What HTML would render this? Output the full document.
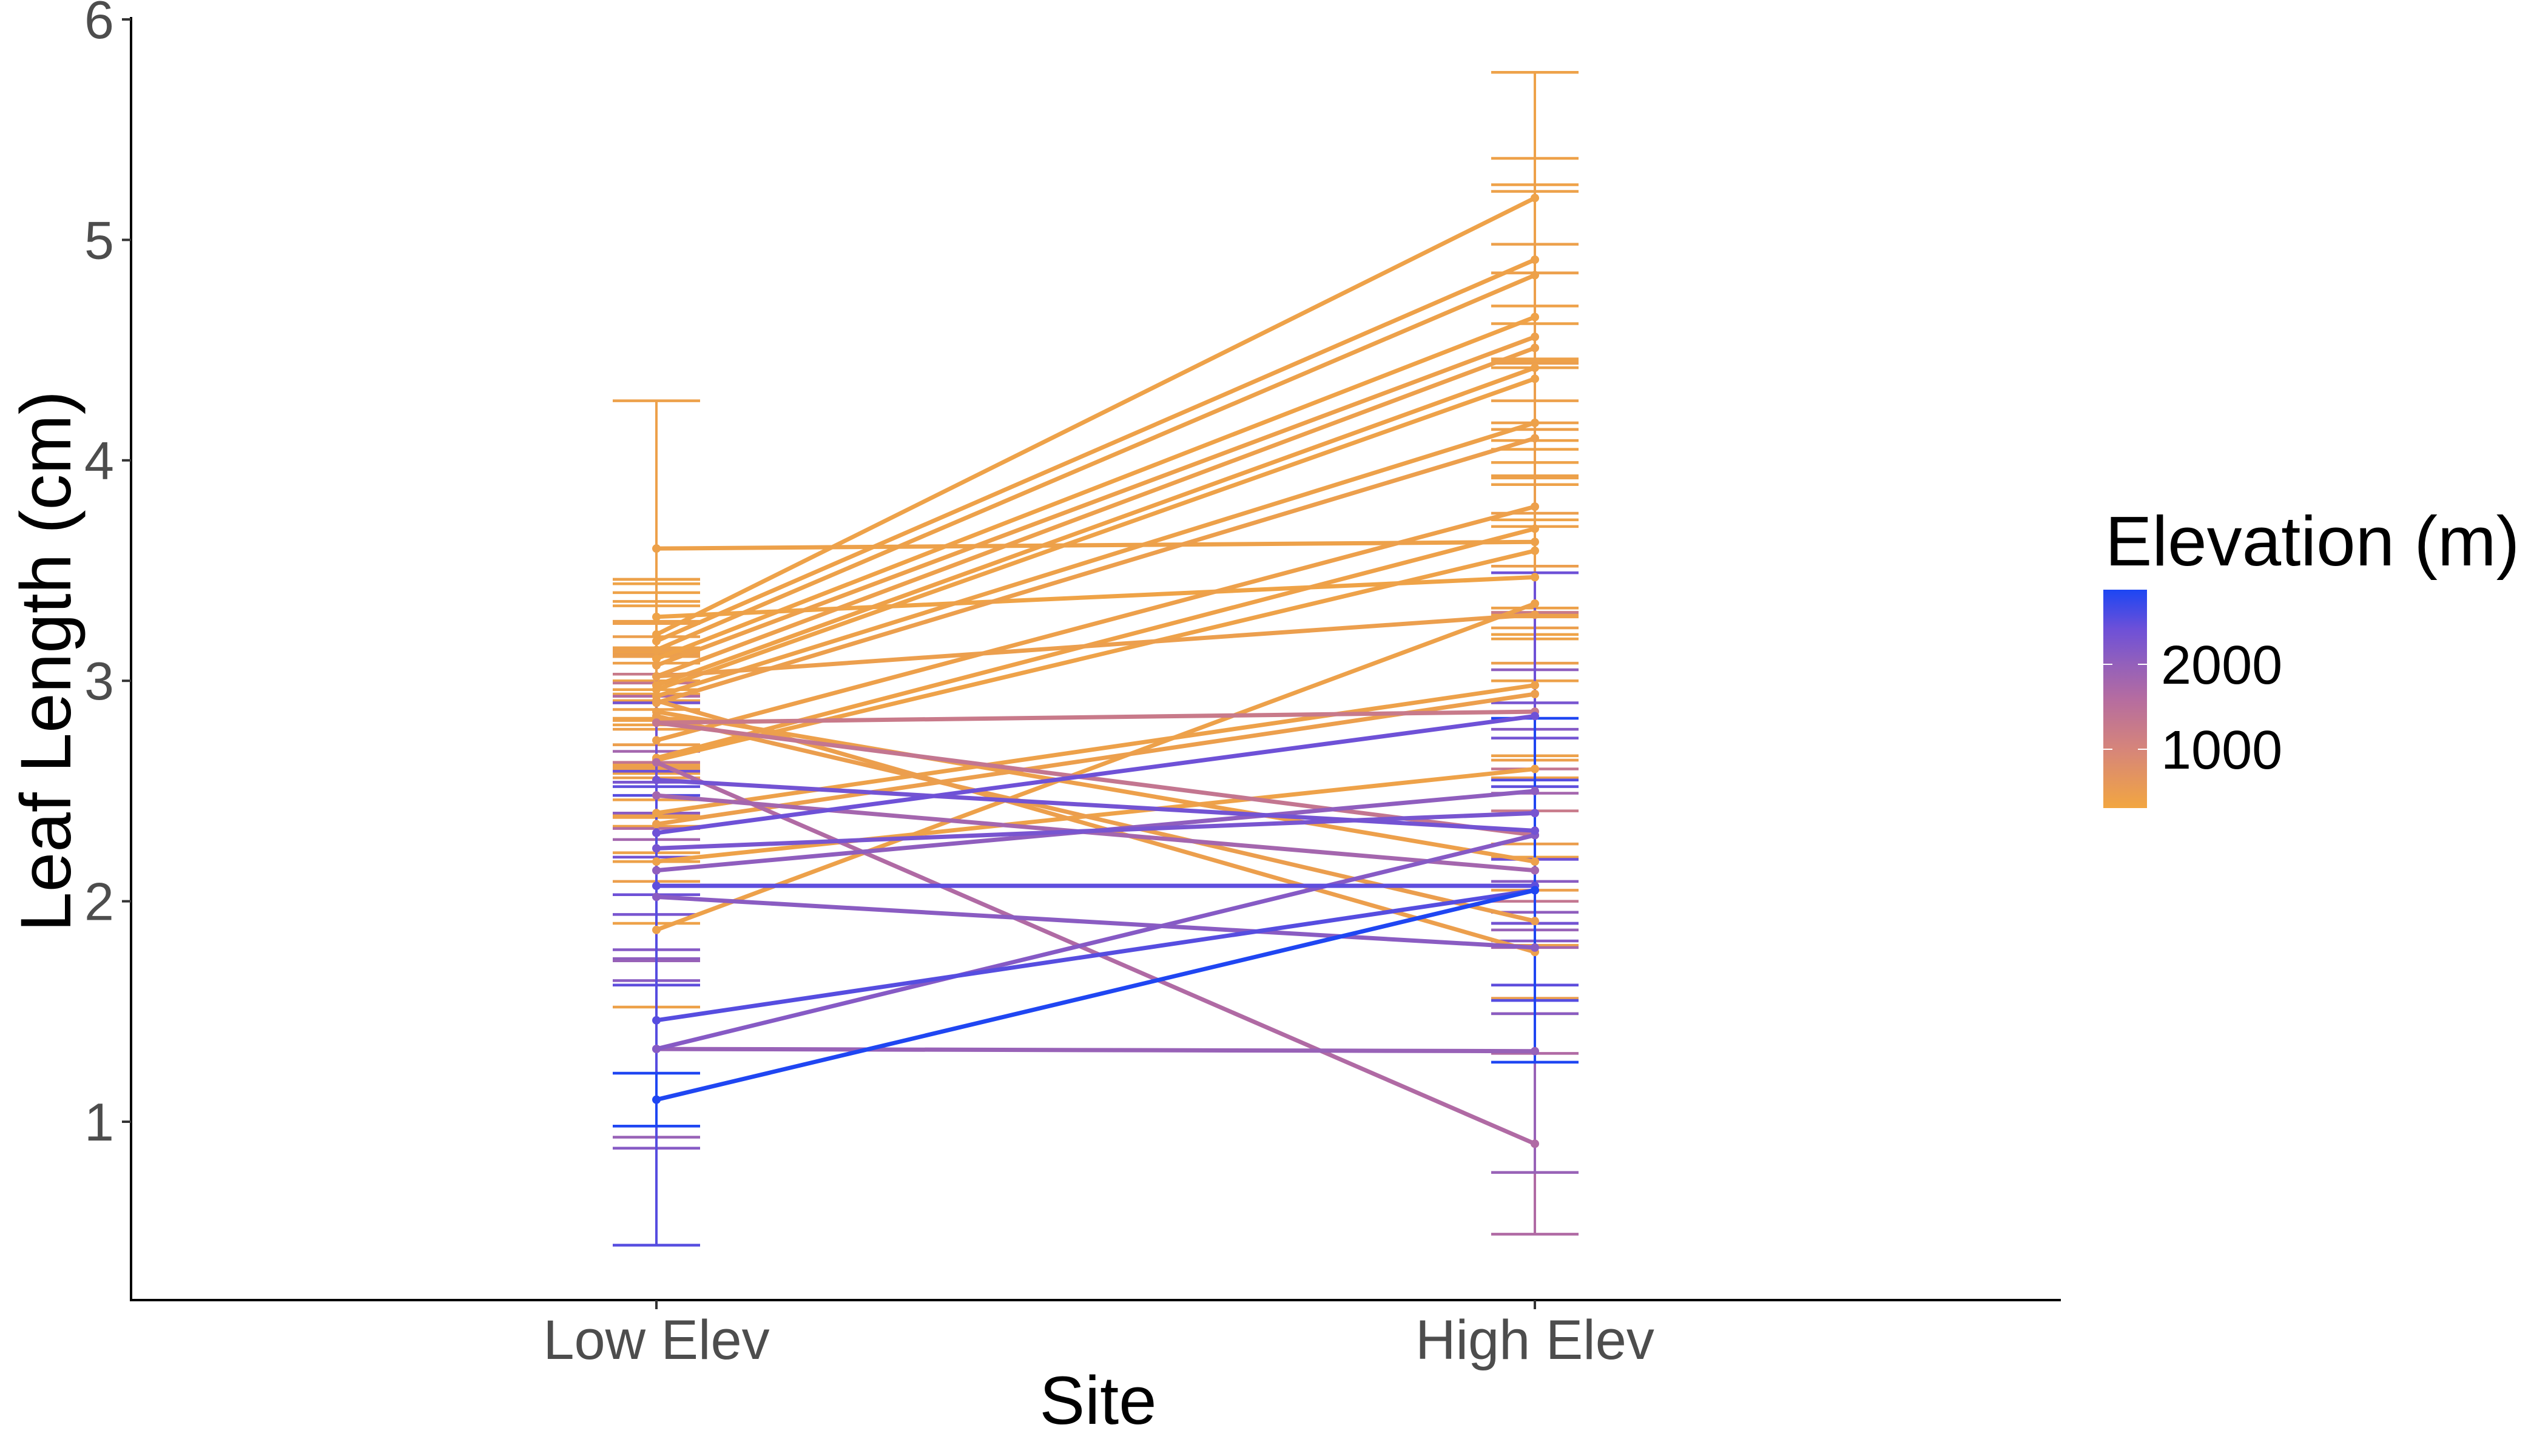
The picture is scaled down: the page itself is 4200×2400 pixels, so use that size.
<!DOCTYPE html>
<html><head><meta charset="utf-8"><style>
html,body{margin:0;padding:0;background:#fff;}
svg{display:block;font-family:"Liberation Sans",sans-serif;}
</style></head><body>
<svg id="chart" width="4200" height="2400" viewBox="0 0 4200 2400" xmlns="http://www.w3.org/2000/svg">
<defs>
<linearGradient id="elevGrad" x1="0" y1="1" x2="0" y2="0">
<stop offset="0" stop-color="#f2a641"/>
<stop offset="0.27" stop-color="#d6857a"/>
<stop offset="0.5" stop-color="#b56ca0"/>
<stop offset="0.66" stop-color="#9360bb"/>
<stop offset="0.82" stop-color="#6d50d8"/>
<stop offset="1" stop-color="#1c46f3"/>
</linearGradient>
</defs>
<g id="marks"></g>
<line x1="216" y1="28" x2="216" y2="2144" stroke="#000" stroke-width="4"/>
<line x1="214" y1="2143" x2="3397" y2="2143" stroke="#000" stroke-width="4"/>
<g id="axes"></g>
<text x="1810" y="2347" font-size="112" text-anchor="middle" fill="#000">Site</text>
<text transform="translate(76,1090) rotate(-90)" font-size="118" text-anchor="middle" fill="#000" dominant-baseline="central">Leaf Length (cm)</text>
<g>
<text x="3470" y="932" font-size="116" fill="#000">Elevation (m)</text>
<rect x="3467" y="972" width="72" height="360" fill="url(#elevGrad)"/>
<g id="legendTicks"></g>
</g>
</svg>
<script>
const categories = ["Low Elev", "High Elev"];
const yTicks = [1, 2, 3, 4, 5, 6];
const legendTicks = [1000, 2000];
const lowMean =  [3.60, 3.29, 3.02, 2.81, 2.63, 2.55, 2.48, 2.81, 2.86, 2.91, 2.84, 2.64, 2.40, 2.35, 2.31, 2.24, 2.18, 2.14, 2.07, 2.02, 1.87, 1.46, 1.33, 1.33, 1.10, 3.21, 3.18, 3.14, 3.10, 3.07, 3.02, 2.98, 2.96, 2.93, 2.90, 2.73, 2.65];
const highMean = [3.63, 3.47, 3.30, 2.86, 0.90, 2.32, 2.14, 2.30, 2.18, 1.77, 1.91, 3.59, 2.98, 2.94, 2.84, 2.40, 2.60, 2.50, 2.07, 1.79, 3.35, 2.05, 2.30, 1.32, 2.05, 5.19, 4.91, 4.84, 4.65, 4.56, 4.51, 4.42, 4.37, 4.17, 4.10, 3.79, 3.69];
const lowSE =    [0.67, 0.15, 0.12, 0.22, 0.30, 0.35, 0.20, 0.18, 0.25, 0.20, 0.28, 0.30, 0.22, 0.26, 0.28, 0.30, 0.28, 0.40, 0.45, 0.38, 0.35, 1.02, 0.45, 0.40, 0.12, 0.25, 0.18, 0.32, 0.30, 0.20, 0.24, 0.15, 0.38, 0.22, 0.30, 0.35, 0.26];
const highSE =   [0.30, 0.26, 0.22, 0.45, 0.41, 0.42, 0.35, 0.30, 0.38, 0.28, 0.35, 0.40, 0.32, 0.30, 0.65, 0.50, 0.40, 0.55, 0.45, 0.30, 0.35, 0.50, 0.48, 0.55, 0.78, 0.57, 0.46, 0.38, 0.60, 0.42, 0.34, 0.28, 0.48, 0.25, 0.34, 0.48, 0.40];
const elevation = [420, 380, 460, 1250, 1650, 2350, 1800, 1350, 430, 450, 470, 400, 420, 450, 2400, 2300, 400, 2050, 2500, 2100, 420, 2550, 2150, 1950, 2860, 400, 410, 420, 390, 430, 440, 410, 400, 420, 450, 430, 410];

const NS = "http://www.w3.org/2000/svg";
const xPos = i => [1082, 2530][i];
const yScale = v => 1849 - (v - 1) * 363.4;
const legendY = e => 1235 - (e - 1000) * 0.14;
const stops = [[0,[242,166,65]],[0.27,[214,133,122]],[0.5,[181,108,160]],[0.66,[147,96,187]],[0.82,[109,80,216]],[1,[28,70,243]]];
function colorFor(e){
  let t = (e - 307) / (2879 - 307); t = Math.max(0, Math.min(1, t));
  for (let k = 1; k < stops.length; k++) {
    if (t <= stops[k][0]) {
      const a = stops[k-1], b = stops[k], f = (t - a[0]) / (b[0] - a[0]);
      const c = a[1].map((v, j) => Math.round(v + (b[1][j] - v) * f));
      return "rgb(" + c.join(",") + ")";
    }
  }
  return "rgb(28,70,243)";
}
function mk(tag, attrs, parent){
  const el = document.createElementNS(NS, tag);
  for (const k in attrs) el.setAttribute(k, attrs[k]);
  parent.appendChild(el);
  return el;
}
const marks = document.getElementById("marks");
const axes = document.getElementById("axes");
const order = elevation.map((e, i) => i).sort((a, b) => elevation[a] - elevation[b]);
order.forEach(i => {
  const col = colorFor(elevation[i]);
  [[lowMean[i], lowSE[i], 0], [highMean[i], highSE[i], 1]].forEach(([m, se, s]) => {
    const x = xPos(s);
    const g = mk("g", {}, marks);
    
    
    mk("line", {x1: x, x2: x, y1: yScale(m + se), y2: yScale(m - se), stroke: col, "stroke-width": 4}, g);
    mk("line", {x1: x - 72, x2: x + 72, y1: yScale(m + se), y2: yScale(m + se), stroke: col, "stroke-width": 4.5}, g);
    mk("line", {x1: x - 72, x2: x + 72, y1: yScale(m - se), y2: yScale(m - se), stroke: col, "stroke-width": 4.5}, g);
  });
});
order.forEach(i => {
  const col = colorFor(elevation[i]);
  const ln = mk("line", {x1: xPos(0), y1: yScale(lowMean[i]), x2: xPos(1), y2: yScale(highMean[i]), stroke: col, "stroke-width": 7}, marks);
  
  
  [[lowMean[i], 0], [highMean[i], 1]].forEach(([m, s]) => {
    const p = mk("circle", {cx: xPos(s), cy: yScale(m), r: 7, fill: col}, marks);
    
    
  });
});
yTicks.forEach(v => {
  const t = mk("line", {x1: 201, x2: 216, y1: yScale(v), y2: yScale(v), stroke: "#333", "stroke-width": 4}, axes);
  
  
  const lb = mk("text", {x: 188, y: yScale(v) + 31, "font-size": 88, "text-anchor": "end", fill: "#4d4d4d"}, axes);
  lb.textContent = v;
  
  
});
categories.forEach((c, i) => {
  const t = mk("line", {x1: xPos(i), x2: xPos(i), y1: 2143, y2: 2158, stroke: "#333", "stroke-width": 4}, axes);
  
  
  const lb = mk("text", {x: xPos(i), y: 2240, "font-size": 92, "text-anchor": "middle", fill: "#4d4d4d"}, axes);
  lb.textContent = c;
  
  
});
const lt = document.getElementById("legendTicks");
legendTicks.forEach(e => {
  const y = legendY(e);
  const a = mk("line", {x1: 3467, x2: 3482, y1: y, y2: y, stroke: "#fff", "stroke-width": 2}, lt);
  
  
  const b = mk("line", {x1: 3524, x2: 3539, y1: y, y2: y, stroke: "#fff", "stroke-width": 2}, lt);
  
  
  const lb = mk("text", {x: 3562, y: y + 32, "font-size": 90, fill: "#000"}, lt);
  lb.textContent = e;
  
  
});
</script>
</body></html>
